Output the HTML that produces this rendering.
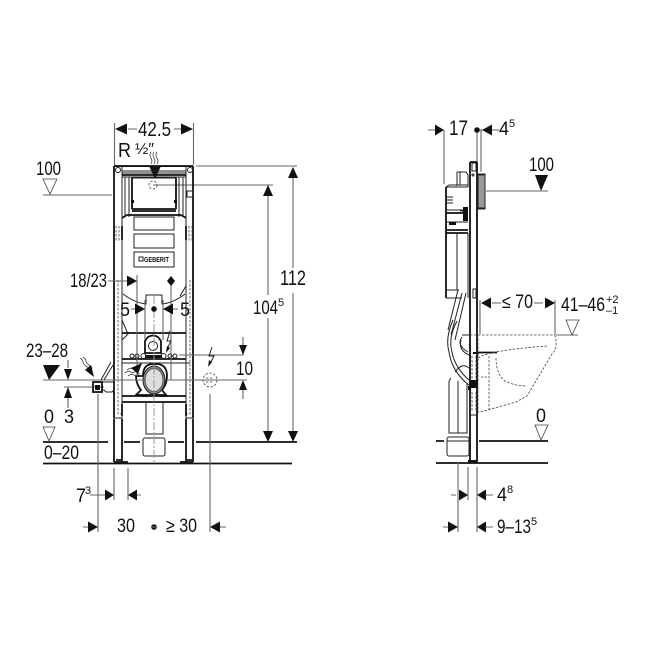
<!DOCTYPE html>
<html><head><meta charset="utf-8"><style>
html,body{margin:0;padding:0;background:#fff}
svg{display:block;filter:blur(.35px)}
text{font-family:"Liberation Sans",sans-serif;fill:#111;font-size:19px}
.d{stroke:#666;stroke-width:1.1;fill:none}
.k{stroke:#222;stroke-width:1;fill:none}
.t{stroke:#111;stroke-width:1.8;fill:none}
.c{stroke:#999;stroke-width:1;fill:none;stroke-dasharray:8 2 2 2}
.s{stroke:#444;stroke-width:.8;fill:none;stroke-dasharray:2.5 1.5}
.h{fill:#111;stroke:none}
.w{stroke:#444;stroke-width:.8;fill:none}
</style></head><body>
<svg width="650" height="650" viewBox="0 0 650 650" xmlns="http://www.w3.org/2000/svg">
<rect width="650" height="650" fill="#fff"/>
<!-- LEFT VIEW -->
<path class="d" d="M114.500 123V165M193.500 123V165M128 129H137M174 129H183"/>
<path class="h" d="M115 129l12-5.500v11zM193 129l-12-5.500v11z"/>
<text x="138" y="136" style="font-size:20px" textLength="33" lengthAdjust="spacingAndGlyphs">42.5</text>
<text x="118" y="157" style="font-size:20px" textLength="13" lengthAdjust="spacingAndGlyphs">R</text>
<text x="135" y="154" style="font-size:16px" textLength="19" lengthAdjust="spacingAndGlyphs">½″</text>
<path class="w" d="M151 152q-2 3 0 6t0 6M154 152q-2 3 0 6t0 6M157 152q-2 3 0 6t0 6"/>
<path class="h" d="M149 166h12l-6 13z"/>
<text x="36" y="175" textLength="25" lengthAdjust="spacingAndGlyphs">100</text>
<path class="w" d="M43 179H57L50 194Z"/>
<path class="d" d="M43 195H112"/>
<path class="d" d="M196 166H297M153 185H273"/>
<path class="h" d="M293 167l-5 11h10zM268 185l-5 11h10z"/>
<path class="d" d="M293 178V268M293 293V436M268 196V295M268 318V436"/>
<path class="h" d="M293 442l-5-11h10zM268 442l-5-11h10z"/>
<text x="280" y="285" style="font-size:21px" textLength="26" lengthAdjust="spacingAndGlyphs">112</text>
<text x="253" y="314" textLength="25" lengthAdjust="spacingAndGlyphs">104</text>
<text x="278" y="306" style="font-size:11px">5</text>

<!-- frame -->
<path class="k" stroke-width="1.3" d="M114 166.500H193M114 166V418H122V166M186 166V418H193V166"/>
<path class="t" d="M114 166V418M193 166V418M114 166H193"/>
<path class="k" d="M122 171H186M122 173H186M122 177H186M125 177V217M129 177V217M183 177V217M179 177V217"/>
<path class="t" d="M122 175H186"/>
<circle class="k" cx="118" cy="170" r="2.500"/><circle class="k" cx="190" cy="170" r="2.500"/>
<path class="k" d="M132 178H176V209H132Z"/>
<path class="t" d="M132 209H176M132 211H176M132 178V209M176 178V209" stroke-width="1.2"/>
<path class="t" d="M122 218L127 215H181L186 218"/>
<circle class="s" cx="153" cy="185" r="4"/>
<path class="k" d="M187 191h6v6h-6z"/>
<path class="h" d="M131 200h3v3h-3zM174 200h3v3h-3z"/>
<rect class="k" x="134" y="217" width="40" height="13"/>
<rect class="k" x="134" y="234" width="40" height="14"/>
<rect class="k" x="134" y="252" width="40" height="15"/>
<rect x="139" y="257" width="4" height="4" class="k"/>
<text x="144" y="262" style="font-size:7px;font-weight:bold" textLength="25" lengthAdjust="spacingAndGlyphs">GEBERIT</text>
<path class="s" d="M116 226V242M119 226V242M189 226V242M192 226V242"/>
<path class="t" d="M122 226V240M186 226V240" stroke-width="2.500"/>
<path class="s" d="M118 280V414H121M190 280V414H187"/>
<path class="k" d="M123 294Q135 303 146 304V295H162V304Q173 303 185 294" stroke-width="1.200"/>
<path class="k" d="M186 286L180 296M122 340L128 334L122 320Z"/>
<path class="k" d="M122 372L122 363H190M122 396H186M122 402H186"/>
<path class="t" d="M122 333H186M122 359H186M122 396H186" stroke-width="1.300"/>
<path class="t" d="M122 402H186" stroke-width="1.300"/>
<!-- sockets -->
<path class="t" d="M148 337q5-3 10 0l3 4v12h-16v-12z" stroke-width="2"/>
<circle class="k" cx="153" cy="346" r="4.500"/>
<path class="h" d="M145 355h17v3h-17z"/>
<circle class="k" cx="132" cy="356" r="2"/><circle class="k" cx="137" cy="356" r="2"/>
<circle class="k" cx="143.500" cy="356" r="2.500"/><circle class="k" cx="163.500" cy="356" r="2.500"/>
<circle class="k" cx="170" cy="356" r="2"/><circle class="k" cx="175" cy="356" r="2"/>
<!-- drain -->
<path class="t" d="M143 376q0-12 10-12h3q11 0 11 12q0 8-5 14l4 5h-30l5-5q-5-6-5-14z" stroke-width="1.400"/>
<ellipse cx="154" cy="380" rx="11" ry="14" fill="#888" stroke="#222"/>
<ellipse cx="154" cy="380" rx="9" ry="11.500" fill="#ddd" stroke="#555"/>
<path class="t" d="M141 396h6M160 396h8" stroke-width="2.500"/>
<!-- frame lower -->
<path class="k" d="M146 402V434H163V402"/>
<rect class="k" x="143" y="438" width="22" height="18" rx="2" stroke-width="1.300"/>
<path class="k" d="M114 418V462M122 418V462M186 418V462M193 418V462"/>
<path class="t" d="M114 419V462M122 419V462M186 419V462M193 419V462" stroke-width="1.200"/>
<path class="t" d="M114 462H128M180 462H193M116 460H121M187 460H192" stroke-width="1.500"/>
<path class="t" d="M122 404v12M186 404v12" stroke-width="2"/>
<!-- floor lines -->
<path class="t" d="M43 442H108M124 442H140M168 442H184M196 442H297"/>
<path class="t" d="M43 463.500H292"/>
<!-- 0 levels -->
<text x="44" y="423" textLength="10" lengthAdjust="spacingAndGlyphs">0</text>
<path class="w" d="M43 427H55L49 441Z"/>
<text x="44" y="459" textLength="35" lengthAdjust="spacingAndGlyphs">0–20</text>
<!-- 18/23 & 5 -->
<text x="70" y="287" textLength="37" lengthAdjust="spacingAndGlyphs">18/23</text>
<path class="d" d="M108 281H128M137 275V376M171 282V380M145 300V340M163 300V340"/>
<path class="c" d="M154 296V462"/>
<path class="h" d="M137 281l-10-5.500v11z"/>
<path class="h" d="M171 276l4 5-4 5-4-5z"/>
<text x="120" y="316" textLength="10" lengthAdjust="spacingAndGlyphs">5</text>
<text x="180" y="316" textLength="10" lengthAdjust="spacingAndGlyphs">5</text>
<path class="d" d="M131 309H138M171 309H178"/>
<path class="h" d="M145 309l-10-5.500v11zM163 309l10-5.500v11z"/>
<circle class="h" cx="154" cy="309" r="2.800"/>
<!-- bolts -->
<path class="k" d="M170 331L167 341H171L168 347" stroke-width="1.300"/>
<path class="h" d="M166 353l1-7 3 2z"/>
<path class="d" d="M179 355H244"/>
<path class="k" d="M212 347L209 356H214L210 364" stroke-width="1.300"/>
<path class="h" d="M208 367l1-7 3 2z"/>
<!-- 10 right -->
<path class="d" d="M243 337V345M243 389V399M168 380H247"/>
<path class="h" d="M243 355l-4-10h8zM243 380l-4 10h8z"/>
<text x="236" y="375" textLength="17" lengthAdjust="spacingAndGlyphs">10</text>
<circle class="s" cx="210" cy="380" r="7"/>
<path class="s" d="M206 378h8M206 382h8"/>
<path class="d" d="M210 394V532"/>
<!-- left 23-28 -->
<text x="26" y="357" textLength="42" lengthAdjust="spacingAndGlyphs">23–28</text>
<path class="h" d="M43 365H60L49 380Z"/>
<path class="d" d="M43 380H146M68 360V368M64 387H104M68 398V408"/>
<path class="h" d="M68 380l-4-11h8zM68 387l-4 11h8z"/>
<text x="64" y="423" textLength="10" lengthAdjust="spacingAndGlyphs">3</text>
<path class="w" d="M80 358q3 2 3 4t3 4t3 4M83 357q3 2 3 4t3 4t3 4"/>
<path class="h" d="M94 377l-9-7 6-5z"/>
<rect class="t" x="93" y="382" width="9" height="10"/>
<rect class="h" x="95" y="385" width="5" height="5"/>
<path class="k" d="M102 382H113M102 390H104L106 392H112L114 390M101 380L111 362M104 380L113 365"/>
<path class="w" d="M127 370q4-3 6-1t6-2M125 373q4-3 6-1t6-2M128 376q4-3 6-1t6-2"/>
<path class="h" d="M142 363l-4 11-7-6z" />
<path class="d" d="M98 394V532"/>
<!-- bottom dims -->
<path class="d" d="M114 468V500M128 468V500M90 495H106M141 495H133"/>
<text x="76" y="502" textLength="10" lengthAdjust="spacingAndGlyphs">7</text>
<text x="85" y="494" style="font-size:11px">3</text>
<path class="h" d="M114 495l-9-5.500v11zM128 495l9-5.500v11z"/>
<path class="h" d="M98 527l-10-5.500v11zM210 527l10-5.500v11z"/>
<path class="d" d="M83 527H88M220 527H226"/>
<text x="117" y="532" textLength="18" lengthAdjust="spacingAndGlyphs">30</text>
<circle class="h" cx="154" cy="527" r="2.800"/>
<path class="d" d="M151 527H157"/>
<text x="166" y="532" textLength="31" lengthAdjust="spacingAndGlyphs">≥ 30</text>

<!-- RIGHT VIEW -->
<path class="d" d="M428 130H435M444 130V184M477 130H499M477 130V165M481 130V172"/>
<path class="h" d="M444 130l-9-5.500v11zM482 130l10-5.500v11z"/>
<circle class="h" cx="477" cy="130" r="2.800"/>
<text x="449" y="135" style="font-size:21px" textLength="19" lengthAdjust="spacingAndGlyphs">17</text>
<text x="499" y="135" textLength="10" lengthAdjust="spacingAndGlyphs">4</text>
<text x="509" y="127" style="font-size:11px">5</text>
<!-- rail -->
<path class="t" d="M470 162V462M477 162V462M470 162H477" stroke-width="1.400"/>
<path class="k" d="M472 163h4v8h-4z"/>
<circle class="k" cx="473" cy="175" r="1"/>
<rect x="478" y="175" width="7" height="33" fill="#999" stroke="#222"/>
<path class="k" d="M478 174H485V209H478"/>
<path class="d" d="M486 191H548"/>
<path class="h" d="M535 175H548L541 191Z"/>
<text x="529" y="171" textLength="25" lengthAdjust="spacingAndGlyphs">100</text>
<!-- cistern -->
<path class="k" d="M457 172H466L468 175V187M457 172V186M446 187H468M446 187L449 185H468M460 172L460 185"/>
<path class="k" d="M446 187V233M446 233H468M460 211H468M447 210H468M447 222H468"/>
<path class="t" d="M446 187V298M446 233H468M446 230H468M446 213H468" stroke-width="1.400"/>
<path class="h" d="M463 207h5v14h-5zM449 222h7v3h-7z"/>
<path class="k" d="M457 233V290M468 233V298M446 290H459M446 298H462M447 197H453M447 200H453M447 203H453"/>
<path class="k" d="M466 293L455 340M462 293L451 335M458 290L448 330" stroke-width="1.200"/>
<rect class="k" x="473" y="289" width="3" height="9"/>
<!-- hoses -->
<path class="k" d="M453 320Q445 338 449 352Q452 372 469 385" stroke-width="1.200"/>
<path class="k" d="M457 321Q448 338 452 352Q455 368 469 380" stroke-width="1.200"/>
<path class="k" d="M462 337Q456 345 468 352M461 340Q458 350 469 355M455 372Q462 362 469 368M462 335H470"/>
<path class="k" d="M449 381V433H467V384M449 381L451 378M458 381V433"/>
<rect class="k" x="447" y="437" width="22" height="19" rx="2" stroke-width="1.300"/>
<path class="k" d="M447 441H469"/>
<rect class="h" x="470" y="380" width="8" height="8"/>
<path class="h" d="M468 386h3v4h-3z"/>
<path class="s" d="M472 356V380M476 356V380M472 392V412M476 392V412"/>
<path class="k" d="M470 415H477" stroke-width="1.200"/>
<path class="t" d="M478 352.500H497" stroke-width="3"/>
<path class="h" d="M473 352h6v2h-6z"/>
<!-- toilet dashed -->
<path class="s" d="M470 335H552Q556 335 556 340V346Q556 350 552 354L527 396L516 402L480 412H478V337"/>
<path class="s" d="M478 358Q490 350 548 346M496 358Q496 374 505 381Q515 386 527 386M489 356V410M481 377H487"/>
<!-- <=70 -->
<path class="d" d="M480 300V334M555 300V335M492 303H501M534 303H543"/>
<path class="h" d="M481 303l10-5.500v11zM555 303l-10-5.500v11z"/>
<text x="502" y="308" textLength="31" lengthAdjust="spacingAndGlyphs">≤ 70</text>
<text x="561" y="311" textLength="44" lengthAdjust="spacingAndGlyphs">41–46</text>
<text x="606" y="303" style="font-size:11px">+2</text>
<text x="606" y="314" style="font-size:11px">–1</text>
<path class="w" d="M566 320H579L572 335Z"/>
<path class="d" d="M556 335H578"/>
<!-- 0 -->
<text x="536" y="422" textLength="10" lengthAdjust="spacingAndGlyphs">0</text>
<path class="w" d="M535 425H548L541 440Z"/>
<path class="t" d="M436 441H444M479 441H548"/>
<path class="t" d="M436 463H548"/>
<path class="h" d="M468 460h9v3h-9z"/>
<!-- bottom right -->
<path class="d" d="M458 462V532M468 467V500M477 467V532M451 495H456M443 527H448M484 495H493M484 527H493"/>
<path class="h" d="M468 495l-9-5.500v11zM477 495l9-5.500v11zM458 527l-10-5.500v11zM477 527l9-5.500v11z"/>
<text x="497" y="501" textLength="10" lengthAdjust="spacingAndGlyphs">4</text>
<text x="507" y="493" style="font-size:11px">8</text>
<text x="497" y="533" textLength="34" lengthAdjust="spacingAndGlyphs">9–13</text>
<text x="531" y="525" style="font-size:11px">5</text>
</svg>
</body></html>
